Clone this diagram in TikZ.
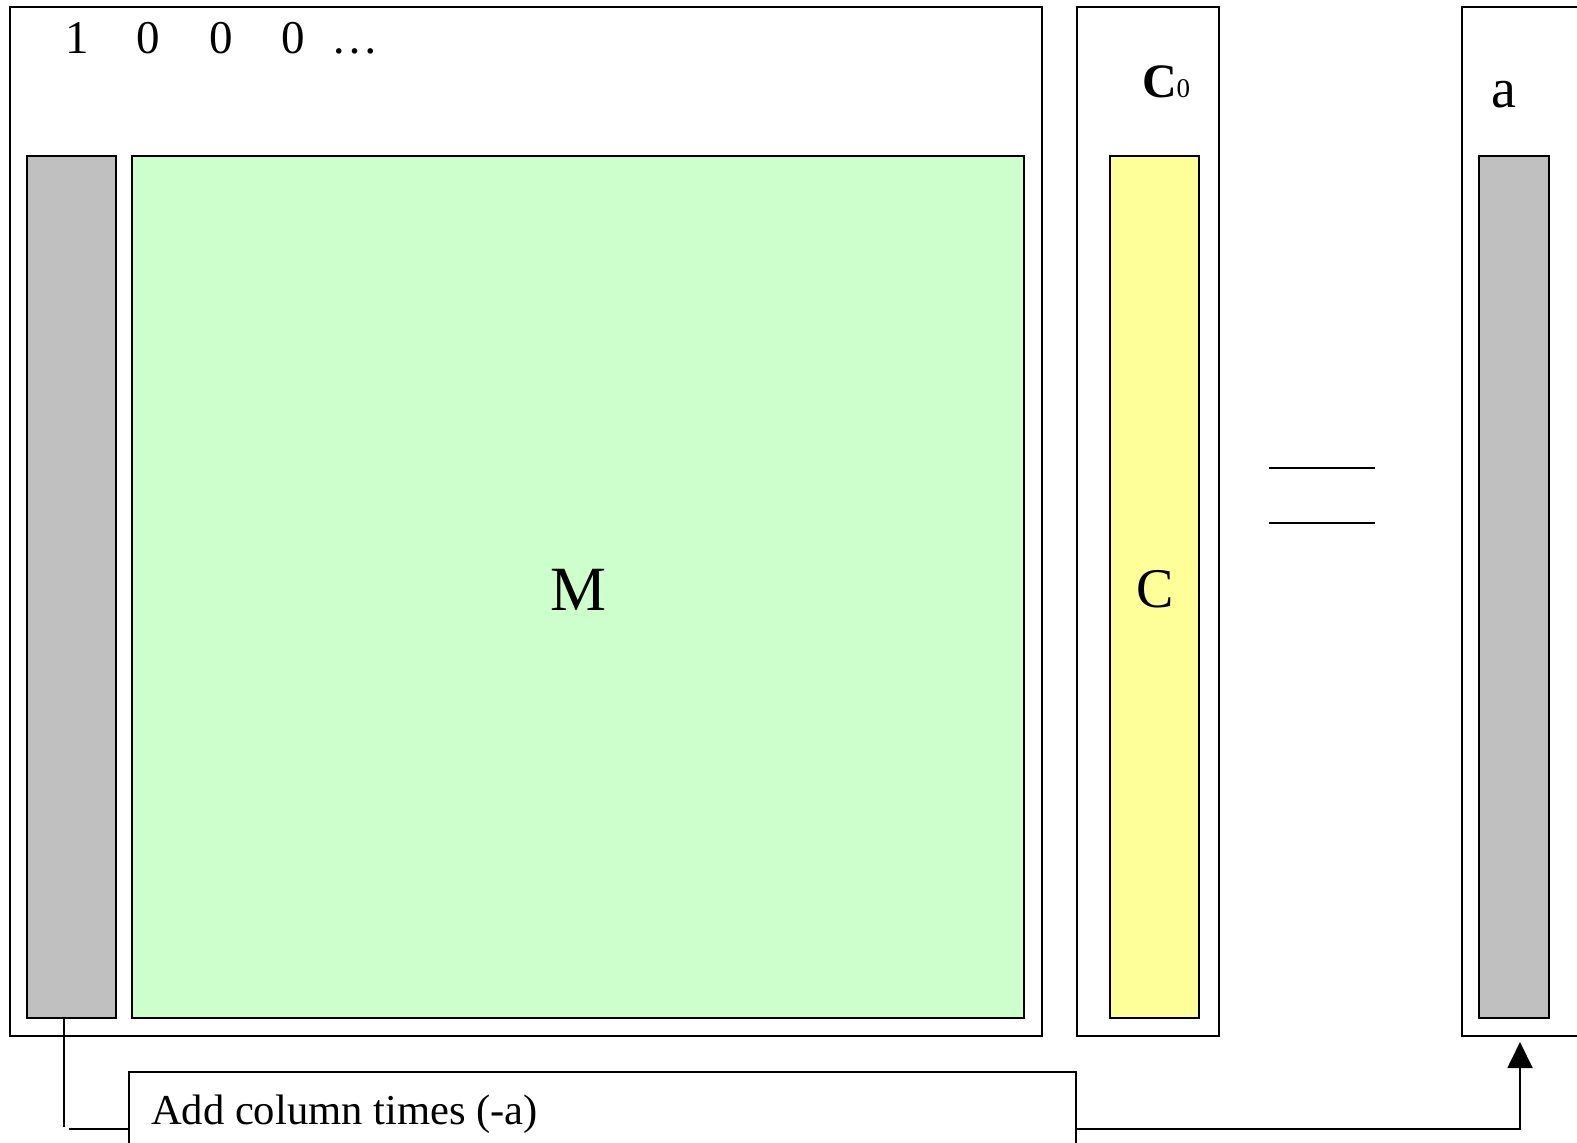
\documentclass[tikz,border=0pt]{standalone}
\usepackage{fontspec}
\setmainfont{Liberation Serif}
\usetikzlibrary{fit,arrows.meta}
\definecolor{colgray}{HTML}{C0C0C0}
\definecolor{colgreen}{HTML}{CCFFCC}
\definecolor{colyellow}{HTML}{FFFF99}
\begin{document}
\begin{tikzpicture}[x=0.5pt,y=-0.5pt,
  box/.style={draw=black,line width=1pt,inner sep=0pt},
  lbl/.style={inner sep=0pt,outer sep=0pt},
  conn/.style={draw=black,line width=1pt}]
\useasboundingbox (0,0) rectangle (1577,1142);
% outer boxes
\node[box, fit={(10,7)(1042,1036)}] (big) {};
\node[box, fit={(1077,7)(1219,1036)}] (cbox) {};
\node[box, fit={(1462,7)(1640,1036)}] (abox) {};
% inner columns
\node[box, fill=colgray, fit={(27,156)(116,1018)}] (gl) {};
\node[box, fill=colgreen, fit={(132,156)(1024,1018)}] (green) {};
\node[box, fill=colyellow, fit={(1110,156)(1199,1018)}] (yel) {};
\node[box, fill=colgray, fit={(1479,156)(1549,1018)}] (gr) {};
% top row
\begin{scope}[every node/.style={lbl,anchor=base,font=\fontsize{23.5}{23.5}\selectfont}]
\node (d1) at (77,53) {1};
\node (d2) at (148,53) {0};
\node (d3) at (221,53) {0};
\node (d4) at (293,53) {0};
\node[anchor=base west] (dots) at (331,53) {…};
\end{scope}
% labels
\node[lbl,anchor=base,font=\fontsize{31.5}{31.5}\selectfont] (M) at (578,610) {M};
\node[lbl,anchor=base,font=\fontsize{28}{28}\selectfont] (C) at (1155,607) {C};
\node[lbl,anchor=base west,font=\fontsize{24}{24}\selectfont] (C0) at (1142,97) {\textbf{C}{\fontsize{13.5}{13.5}\selectfont 0}};
\node[lbl,anchor=base,font=\fontsize{28}{28}\selectfont] (a) at (1504,107) {a};
% equals sign
\coordinate (e1a) at (1269,468); \coordinate (e1b) at (1375,468);
\coordinate (e2a) at (1269,523); \coordinate (e2b) at (1375,523);
\draw[conn] (e1a) -- (e1b);
\draw[conn] (e2a) -- (e2b);
% label box
\node[box, fit={(129,1072)(1076,1180)}] (lab) {};
\node[lbl,anchor=base west,font=\fontsize{21.3}{21.3}\selectfont] (labtxt) at (151,1124) {Add column times (-a)};
% connectors
\coordinate (lv) at (64,1127);
\coordinate (lh) at (69,1129);
\draw[conn] (gl.south -| lv) -- (lv);
\draw[conn] (lh) -- (lh -| lab.west);
\coordinate (rc) at (1520,1129);
\coordinate (tip) at (1520,1042);
\draw[conn,-{Triangle[length=13pt,width=12.5pt]}] (rc -| lab.east) -- (rc) -- (tip);
\end{tikzpicture}
\end{document}
